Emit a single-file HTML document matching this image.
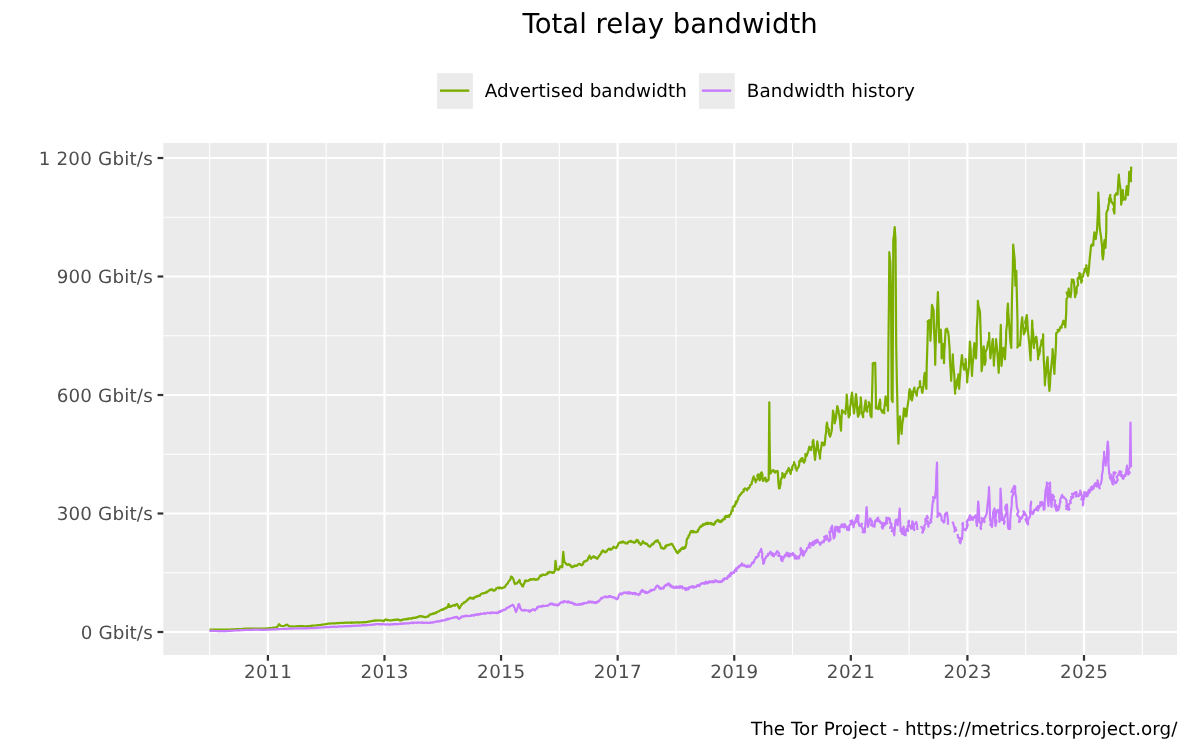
<!DOCTYPE html>
<html><head><meta charset="utf-8"><title>Total relay bandwidth</title>
<style>html,body{margin:0;padding:0;background:#fff;width:1200px;height:750px;overflow:hidden}
svg{display:block;font-family:'DejaVu Sans', 'Liberation Sans', sans-serif;text-rendering:geometricPrecision;will-change:transform}</style></head>
<body><svg width="1200" height="750" viewBox="0 0 1200 750">
<rect width="1200" height="750" fill="#fff"/>
<rect x="163.3" y="143.0" width="1013.70" height="512.00" fill="#EBEBEB"/>
<line x1="163.3" x2="1177.0" y1="572.75" y2="572.75" stroke="#fff" stroke-width="1.11"/>
<line x1="163.3" x2="1177.0" y1="454.25" y2="454.25" stroke="#fff" stroke-width="1.11"/>
<line x1="163.3" x2="1177.0" y1="335.75" y2="335.75" stroke="#fff" stroke-width="1.11"/>
<line x1="163.3" x2="1177.0" y1="217.25" y2="217.25" stroke="#fff" stroke-width="1.11"/>
<line x1="209.61" x2="209.61" y1="143.0" y2="655.0" stroke="#fff" stroke-width="1.11"/>
<line x1="326.19" x2="326.19" y1="143.0" y2="655.0" stroke="#fff" stroke-width="1.11"/>
<line x1="442.78" x2="442.78" y1="143.0" y2="655.0" stroke="#fff" stroke-width="1.11"/>
<line x1="559.36" x2="559.36" y1="143.0" y2="655.0" stroke="#fff" stroke-width="1.11"/>
<line x1="675.95" x2="675.95" y1="143.0" y2="655.0" stroke="#fff" stroke-width="1.11"/>
<line x1="792.54" x2="792.54" y1="143.0" y2="655.0" stroke="#fff" stroke-width="1.11"/>
<line x1="909.12" x2="909.12" y1="143.0" y2="655.0" stroke="#fff" stroke-width="1.11"/>
<line x1="1025.71" x2="1025.71" y1="143.0" y2="655.0" stroke="#fff" stroke-width="1.11"/>
<line x1="1142.29" x2="1142.29" y1="143.0" y2="655.0" stroke="#fff" stroke-width="1.11"/>
<line x1="163.3" x2="1177.0" y1="632.00" y2="632.00" stroke="#fff" stroke-width="2.22"/>
<line x1="163.3" x2="1177.0" y1="513.50" y2="513.50" stroke="#fff" stroke-width="2.22"/>
<line x1="163.3" x2="1177.0" y1="395.00" y2="395.00" stroke="#fff" stroke-width="2.22"/>
<line x1="163.3" x2="1177.0" y1="276.50" y2="276.50" stroke="#fff" stroke-width="2.22"/>
<line x1="163.3" x2="1177.0" y1="158.00" y2="158.00" stroke="#fff" stroke-width="2.22"/>
<line x1="267.90" x2="267.90" y1="143.0" y2="655.0" stroke="#fff" stroke-width="2.22"/>
<line x1="384.49" x2="384.49" y1="143.0" y2="655.0" stroke="#fff" stroke-width="2.22"/>
<line x1="501.07" x2="501.07" y1="143.0" y2="655.0" stroke="#fff" stroke-width="2.22"/>
<line x1="617.66" x2="617.66" y1="143.0" y2="655.0" stroke="#fff" stroke-width="2.22"/>
<line x1="734.24" x2="734.24" y1="143.0" y2="655.0" stroke="#fff" stroke-width="2.22"/>
<line x1="850.83" x2="850.83" y1="143.0" y2="655.0" stroke="#fff" stroke-width="2.22"/>
<line x1="967.41" x2="967.41" y1="143.0" y2="655.0" stroke="#fff" stroke-width="2.22"/>
<line x1="1084.00" x2="1084.00" y1="143.0" y2="655.0" stroke="#fff" stroke-width="2.22"/>
<polyline points="209.5,629.6 210.0,629.6 210.5,629.6 211.0,629.6 211.5,629.6 212.0,629.6 212.5,629.6 213.0,629.6 213.5,629.6 214.0,629.6 214.5,629.6 215.0,629.5 215.5,629.5 216.0,629.5 216.5,629.5 217.0,629.5 217.5,629.5 218.0,629.5 218.5,629.5 219.0,629.5 219.5,629.5 220.0,629.5 220.5,629.5 221.0,629.5 221.5,629.5 222.0,629.5 222.5,629.5 223.0,629.5 223.5,629.5 224.0,629.5 224.5,629.5 225.0,629.5 225.5,629.5 226.0,629.5 226.5,629.5 227.0,629.5 227.5,629.5 228.0,629.5 228.5,629.5 229.0,629.5 229.5,629.5 230.0,629.5 230.5,629.5 231.0,629.5 231.5,629.4 232.0,629.4 232.5,629.4 233.0,629.4 233.5,629.4 234.0,629.3 234.5,629.3 235.0,629.3 235.5,629.3 236.0,629.3 236.5,629.2 237.0,629.2 237.5,629.2 238.0,629.2 238.5,629.2 239.0,629.1 239.5,629.1 240.0,629.1 240.5,629.1 241.0,629.0 241.5,629.0 242.0,629.0 242.5,628.9 243.0,628.9 243.5,628.9 244.0,628.8 244.5,628.8 245.0,628.8 245.5,628.7 246.0,628.7 246.5,628.7 247.0,628.7 247.5,628.6 248.0,628.6 248.5,628.6 249.0,628.6 249.5,628.6 250.0,628.6 250.5,628.5 251.0,628.5 251.5,628.6 252.0,628.6 252.5,628.5 253.0,628.5 253.5,628.5 254.0,628.5 254.5,628.5 255.0,628.5 255.5,628.5 256.0,628.5 256.5,628.5 257.0,628.5 257.5,628.5 258.0,628.5 258.5,628.5 259.0,628.6 259.5,628.5 260.0,628.5 260.5,628.6 261.0,628.6 261.5,628.6 262.0,628.6 262.5,628.6 263.0,628.6 263.5,628.6 264.0,628.5 264.5,628.5 265.0,628.5 265.5,628.5 266.0,628.5 266.5,628.4 267.0,628.3 267.5,628.4 268.0,628.3 268.5,628.3 269.0,628.3 269.5,628.2 270.0,628.2 270.5,628.1 271.0,628.1 271.5,628.0 272.0,627.9 272.5,627.9 273.0,627.8 273.5,627.7 274.0,627.7 274.5,627.6 275.0,627.6 275.5,627.5 276.0,627.4 276.5,627.3 277.0,627.3 277.5,626.5 278.0,625.8 278.5,625.0 279.0,624.2 279.5,624.7 280.0,625.1 280.5,625.6 281.0,626.0 281.5,626.0 282.0,626.0 282.5,626.0 283.0,626.0 283.5,626.0 284.0,626.0 284.5,625.8 285.0,625.5 285.5,625.3 286.0,625.0 286.5,624.8 287.0,624.5 287.5,624.9 288.0,625.4 288.5,625.8 289.0,626.3 289.5,626.3 290.0,626.3 290.5,626.4 291.0,626.4 291.5,626.4 292.0,626.4 292.5,626.5 293.0,626.5 293.5,626.4 294.0,626.5 294.5,626.5 295.0,626.5 295.5,626.4 296.0,626.4 296.5,626.3 297.0,626.3 297.5,626.2 298.0,626.2 298.5,626.2 299.0,626.1 299.5,626.0 300.0,626.0 300.5,626.1 301.0,626.0 301.5,626.1 302.0,626.1 302.5,626.2 303.0,626.2 303.5,626.2 304.0,626.2 304.5,626.3 305.0,626.3 305.5,626.3 306.0,626.3 306.5,626.3 307.0,626.2 307.5,626.2 308.0,626.1 308.5,626.1 309.0,626.0 309.5,626.0 310.0,626.0 310.5,625.9 311.0,625.9 311.5,625.8 312.0,625.7 312.5,625.7 313.0,625.7 313.5,625.6 314.0,625.5 314.5,625.5 315.0,625.5 315.5,625.5 316.0,625.4 316.5,625.4 317.0,625.4 317.5,625.3 318.0,625.2 318.4,625.1 318.9,625.1 319.5,625.0 320.0,625.0 320.4,625.0 321.0,624.9 321.5,624.7 322.0,624.7 322.5,624.6 323.0,624.7 323.6,624.5 324.0,624.5 324.5,624.3 325.0,624.3 325.4,624.2 326.0,624.1 326.5,624.1 326.9,623.9 327.4,623.9 327.9,623.7 328.5,623.7 329.0,623.7 329.5,623.6 330.0,623.5 330.5,623.6 331.0,623.4 331.6,623.3 332.0,623.4 332.4,623.5 333.1,623.4 333.5,623.4 333.9,623.3 334.5,623.4 335.1,623.3 335.5,623.3 336.0,623.3 336.5,623.0 336.9,623.1 337.4,623.2 338.0,623.1 338.5,623.1 339.0,622.9 339.6,623.1 340.0,623.0 340.5,623.0 341.0,622.8 341.5,622.9 341.9,622.9 342.5,622.8 343.0,623.1 343.5,622.8 344.0,622.9 344.6,622.9 345.0,622.7 345.4,622.7 346.1,622.7 346.5,622.6 346.9,622.7 347.5,622.8 348.0,622.7 348.5,622.7 349.0,622.6 349.6,622.6 350.1,622.8 350.4,622.6 351.1,622.8 351.5,622.5 351.9,622.8 352.4,622.6 352.9,622.6 353.6,622.4 354.1,622.5 354.6,622.6 355.0,622.5 355.4,622.7 356.0,622.3 356.4,622.5 357.0,622.4 357.4,622.4 358.0,622.6 358.4,622.6 359.1,622.3 359.6,622.6 360.0,622.5 360.6,622.4 361.0,622.4 361.6,622.4 362.0,622.3 362.4,622.2 362.9,622.5 363.4,622.5 363.9,622.2 364.5,622.1 365.0,622.2 365.5,622.3 366.1,622.2 366.5,622.2 367.1,622.0 367.6,621.7 368.0,621.8 368.6,621.7 369.1,621.7 369.4,621.3 370.1,621.3 370.5,621.3 370.9,621.4 371.6,621.0 372.0,621.0 372.5,620.9 372.9,620.7 373.4,621.0 374.0,620.5 374.6,620.8 375.0,620.5 375.5,620.3 375.9,620.3 376.5,620.3 376.9,620.4 377.5,620.7 378.1,620.5 378.5,620.5 379.0,620.4 379.4,620.4 380.0,620.5 380.6,620.4 381.0,620.7 381.6,620.5 381.9,620.6 382.5,620.8 383.1,621.1 383.6,620.7 384.0,621.0 384.3,620.5 385.0,619.7 385.6,619.7 386.0,619.5 386.5,620.1 387.1,620.1 387.7,619.9 387.9,619.9 388.5,620.2 389.2,620.3 389.6,620.4 390.0,620.3 390.5,620.3 390.8,620.4 391.4,620.5 392.1,620.1 392.4,620.0 393.0,620.2 393.4,619.8 394.0,620.1 394.5,619.9 395.0,620.0 395.5,619.6 395.9,619.8 396.7,619.8 397.1,619.7 397.4,619.4 398.0,619.5 398.7,619.9 398.9,619.7 399.5,620.4 400.0,620.5 400.5,620.2 401.1,620.5 401.4,619.8 401.9,619.9 402.6,619.7 403.1,619.9 403.5,619.4 404.2,619.3 404.6,619.2 405.0,619.2 405.4,619.3 405.9,619.4 406.5,618.8 406.9,618.9 407.6,619.2 407.9,618.7 408.4,619.0 408.9,618.3 409.3,618.5 410.0,618.5 410.7,618.7 411.1,618.7 411.7,618.2 411.9,618.6 412.6,617.9 413.1,618.1 413.4,618.0 413.9,617.7 414.4,617.9 415.0,618.0 415.7,617.5 416.2,617.4 416.4,617.6 417.1,617.2 417.3,617.0 418.0,616.8 418.4,617.0 418.9,616.4 419.7,616.0 420.0,616.2 420.5,616.5 421.1,616.0 421.3,616.0 422.2,616.2 422.6,616.8 423.0,616.5 423.4,616.5 424.2,616.9 424.4,617.2 425.0,617.2 425.4,616.9 425.8,617.2 426.7,617.0 427.2,616.4 427.4,616.6 428.0,616.5 428.7,616.4 428.9,615.3 429.5,615.0 430.0,614.5 430.7,614.1 431.1,614.4 431.7,614.3 432.1,613.8 432.4,613.7 433.1,613.4 433.4,613.8 433.9,613.1 434.3,613.4 435.0,613.2 435.4,613.3 436.2,613.1 436.4,612.0 436.8,612.1 437.6,611.8 437.9,611.5 438.6,611.5 439.1,611.3 439.6,610.5 440.0,610.5 440.7,610.1 441.0,610.0 441.6,609.6 441.9,609.5 442.3,609.8 443.0,609.2 443.4,609.5 444.0,608.7 444.7,608.8 445.0,608.5 445.8,607.9 446.0,608.3 446.7,608.1 446.8,607.3 447.3,607.0 448.0,607.0 448.5,604.0 449.3,605.6 449.5,607.0 450.2,606.7 450.7,606.5 450.9,606.6 451.7,605.8 452.1,606.0 452.3,605.6 453.0,605.5 453.3,605.2 453.9,605.6 454.6,605.2 455.0,605.5 455.2,605.0 456.1,604.5 456.4,604.1 457.0,604.0 457.7,605.0 457.8,605.6 458.5,607.0 458.9,607.8 459.5,608.5 460.1,607.2 460.3,606.9 460.9,605.6 461.4,605.3 462.0,604.0 462.4,603.7 462.9,603.3 463.7,603.5 463.9,602.4 464.6,602.0 465.0,602.0 465.2,602.0 466.0,601.5 466.4,601.1 467.0,600.0 467.2,600.0 468.0,599.5 468.6,599.4 468.8,598.6 469.4,598.0 470.0,597.5 470.3,597.5 471.0,598.3 471.3,598.0 472.2,598.6 472.3,598.0 473.0,598.5 473.8,598.6 474.0,597.4 474.8,597.4 475.2,597.3 475.7,596.5 476.0,596.5 476.7,596.1 476.9,596.7 477.7,595.9 477.8,596.1 478.5,596.0 479.0,596.0 479.3,595.3 480.1,595.6 480.2,594.8 481.2,593.9 481.7,593.5 482.0,593.5 482.6,593.5 483.1,593.1 483.4,593.3 484.0,593.3 484.5,593.0 485.0,593.0 485.2,592.9 486.0,592.2 486.7,592.5 487.0,591.7 487.5,591.3 488.0,591.5 488.3,591.1 488.7,590.8 489.5,590.0 490.1,589.7 490.7,590.1 491.0,589.5 491.5,589.2 492.0,589.7 492.8,589.6 493.2,590.7 493.7,590.7 494.0,590.5 494.3,590.6 495.0,590.2 495.8,588.9 496.2,589.3 496.2,588.3 497.0,588.0 497.7,587.6 498.3,587.7 498.7,587.6 499.0,588.5 499.3,587.7 500.0,587.8 500.2,587.6 501.0,588.0 501.3,588.4 502.1,588.3 502.3,588.1 502.7,587.7 503.6,587.4 504.0,587.5 504.8,587.0 505.1,586.8 505.2,586.3 506.1,585.0 506.7,584.3 507.0,584.0 507.8,583.4 507.9,583.0 508.5,581.6 509.2,580.8 509.7,580.4 510.0,580.0 510.6,578.8 511.0,576.5 511.6,577.2 511.9,576.9 512.2,577.6 513.0,578.5 513.6,579.8 514.0,581.7 514.2,582.3 515.0,584.0 515.6,583.3 515.6,583.6 516.2,583.5 517.0,583.5 517.3,582.9 518.1,581.7 518.6,581.4 518.7,581.2 519.5,580.0 519.8,580.9 520.2,582.8 521.0,584.0 521.8,585.0 521.9,585.0 522.1,586.1 523.0,586.5 523.5,584.8 524.1,583.4 524.8,582.3 525.0,580.5 525.3,581.1 525.7,580.7 526.4,580.4 526.7,581.2 527.1,581.0 528.0,581.0 528.8,580.2 528.8,580.5 529.5,580.2 530.2,579.3 530.4,579.1 531.0,579.0 531.2,579.6 532.2,579.4 532.1,579.6 533.2,579.2 533.7,579.3 533.8,578.9 534.3,578.8 535.0,579.5 535.4,579.8 536.2,579.9 536.7,579.2 537.0,579.4 537.7,579.5 538.0,579.5 538.3,578.8 539.4,577.4 539.8,576.2 540.0,576.0 540.3,575.4 541.2,576.1 541.7,575.0 542.3,574.8 542.3,575.3 543.0,574.5 543.6,574.8 544.1,575.1 544.5,575.0 545.2,575.0 545.4,574.8 546.0,574.5 546.6,573.9 546.8,574.0 547.2,574.1 547.7,572.5 548.2,573.4 549.0,572.5 549.4,571.9 549.6,571.7 550.7,572.4 551.2,572.5 551.1,572.2 552.0,572.0 552.5,572.8 553.2,572.7 554.0,572.7 553.9,572.1 554.8,571.1 555.5,560.9 556.1,565.4 556.4,569.5 556.6,569.1 557.1,568.9 558.3,569.9 558.5,569.5 559.2,569.2 559.7,567.6 559.8,566.5 560.7,566.3 561.5,566.2 561.6,566.9 562.3,567.3 562.7,559.5 563.3,551.9 563.8,557.0 564.4,562.0 564.8,562.4 565.9,563.4 566.0,564.1 566.8,564.4 566.7,564.2 567.5,564.8 568.0,564.8 568.7,564.2 569.2,564.7 570.0,564.6 570.5,565.3 570.3,565.8 571.3,566.8 572.0,567.4 571.8,566.5 572.7,566.9 572.9,566.3 573.6,566.7 574.0,566.7 574.5,565.5 575.3,565.8 575.6,565.7 575.7,565.7 576.2,565.8 577.2,565.6 577.6,564.8 577.9,564.7 578.8,564.0 579.3,563.8 579.2,563.9 579.9,564.1 580.8,564.4 580.8,565.2 581.2,564.9 582.0,565.2 582.6,564.7 583.3,563.6 583.4,562.2 584.1,561.5 584.3,561.8 585.3,561.5 585.4,560.9 586.5,560.9 586.4,560.5 587.3,560.4 588.2,558.8 588.1,557.7 589.1,557.3 589.5,555.6 589.7,556.2 590.3,557.5 591.0,558.8 591.6,557.7 591.9,557.3 593.1,557.5 592.8,557.3 593.7,556.1 593.8,556.3 595.1,557.3 595.3,557.2 595.3,557.9 595.7,557.6 596.4,557.7 597.0,558.8 597.4,558.5 598.2,557.4 598.7,556.6 598.7,556.1 599.5,555.6 600.1,554.5 601.0,553.6 601.2,553.2 601.6,551.6 602.5,551.7 602.8,550.3 603.6,551.0 604.2,551.4 604.6,551.5 604.8,552.2 605.5,552.4 605.7,551.7 606.8,551.5 607.2,550.2 607.6,549.9 608.3,549.2 608.7,548.7 609.4,549.5 609.5,549.1 610.6,548.8 610.8,549.8 610.9,549.2 611.9,549.2 612.1,548.7 613.4,547.4 613.5,546.5 613.6,546.9 614.6,547.5 615.1,547.7 615.9,547.8 616.1,548.1 616.5,547.9 616.9,546.6 617.6,545.9 617.9,545.3 618.6,543.0 619.3,542.8 619.6,542.5 619.8,542.4 620.7,542.8 621.1,541.9 621.4,542.6 622.6,542.1 622.4,542.4 623.0,541.4 623.6,541.7 623.8,542.4 625.0,542.5 625.2,542.6 625.5,543.5 626.1,543.3 626.8,543.3 627.6,543.5 627.8,542.3 628.4,541.6 629.3,541.7 629.8,541.2 630.0,541.2 630.4,540.9 630.9,540.9 630.9,541.9 631.7,541.3 632.2,541.8 632.8,542.2 633.5,541.8 634.2,542.8 634.3,542.3 634.4,542.5 635.8,542.0 635.5,541.7 636.6,540.0 636.5,541.2 637.5,540.1 638.2,540.5 638.2,541.1 638.8,543.0 639.5,542.7 640.6,544.6 640.7,544.9 640.9,544.6 641.9,543.5 642.4,542.8 642.8,541.2 643.6,542.2 643.6,542.4 644.4,543.0 644.9,543.6 645.5,543.1 646.0,543.9 646.2,543.6 646.9,543.7 647.4,544.2 647.9,545.1 648.4,546.0 648.4,546.2 649.3,546.0 650.0,546.8 650.3,546.5 650.7,545.7 651.8,544.5 652.0,544.9 652.0,544.2 653.2,544.2 653.5,542.8 653.9,543.3 654.6,542.1 655.5,541.0 655.8,541.7 656.0,541.7 656.5,540.7 657.2,540.9 657.7,540.1 657.9,541.2 658.7,542.5 659.6,543.2 660.2,544.6 660.4,545.5 660.9,547.1 661.4,548.2 662.1,548.1 662.3,547.6 662.8,548.3 663.7,548.9 664.1,548.7 664.2,548.4 665.6,547.5 665.2,546.5 665.7,545.6 667.2,545.7 667.3,544.9 668.0,545.3 668.8,544.9 669.0,544.8 669.7,544.7 670.0,544.4 670.7,543.9 671.2,544.4 671.8,543.8 671.7,543.8 672.5,544.6 673.3,546.4 673.7,546.5 674.4,548.3 674.6,548.9 675.2,549.2 675.5,550.2 676.0,550.9 676.9,552.5 676.8,552.6 677.8,553.2 677.9,551.8 679.2,551.9 679.8,551.0 679.4,550.1 680.6,550.4 681.0,548.9 682.0,548.7 681.9,548.0 682.6,548.0 682.5,547.6 682.9,548.6 683.5,549.0 683.9,548.7 684.4,547.1 685.3,547.8 686.1,544.9 686.6,542.5 686.4,541.1 687.4,538.2 688.2,537.8 688.7,535.3 689.1,535.4 689.5,534.7 689.8,533.7 690.6,531.8 691.3,530.9 691.1,532.1 692.4,531.1 692.4,532.2 692.7,532.4 693.5,531.0 693.9,531.9 694.5,532.1 694.7,532.3 695.4,532.1 696.2,531.7 696.4,532.3 697.0,531.8 698.0,531.4 698.1,529.7 698.1,530.0 699.3,528.8 699.5,527.6 700.2,526.5 701.2,526.8 701.3,525.6 701.6,526.3 702.0,525.7 702.8,525.7 703.5,524.4 703.1,524.0 704.0,524.3 705.0,524.6 704.6,524.2 705.6,523.3 706.5,524.0 706.7,522.9 707.6,523.8 707.9,524.0 708.1,522.6 708.8,523.8 709.0,523.7 709.8,523.3 710.7,522.9 710.9,523.8 711.2,523.1 711.4,524.2 712.5,523.8 712.2,524.5 713.4,523.6 713.7,524.9 714.1,524.3 715.0,523.6 715.1,523.1 715.4,521.6 715.9,521.9 716.6,520.9 717.3,520.1 717.7,520.5 718.0,520.0 719.4,520.9 719.0,521.7 720.3,521.2 720.5,522.2 721.1,521.4 721.5,520.3 721.5,521.6 722.9,520.2 723.0,519.3 723.8,519.1 724.4,519.2 724.8,519.1 724.7,516.9 725.1,516.7 725.5,516.0 726.5,517.0 726.9,515.8 727.4,516.9 728.5,515.5 728.7,516.4 729.1,516.9 729.2,516.5 729.9,514.6 730.8,514.1 731.4,511.9 731.7,510.3 732.8,510.6 732.5,507.6 733.3,507.3 733.5,506.2 734.7,506.4 735.1,504.0 735.5,504.4 735.9,504.0 735.7,501.6 736.9,502.3 737.3,500.3 737.6,499.8 738.2,499.4 738.2,497.7 738.9,496.4 739.7,495.6 740.0,494.7 740.8,494.5 741.5,492.8 742.1,492.4 741.8,493.0 742.6,492.2 743.8,491.4 743.5,489.7 744.0,489.9 745.0,488.3 745.9,489.0 745.9,489.0 746.9,489.8 747.0,490.3 747.7,488.9 747.8,488.1 748.9,488.4 748.7,488.4 749.7,487.0 749.9,486.0 750.3,484.9 751.6,484.2 751.7,483.7 751.8,481.8 752.5,480.8 752.7,479.1 753.7,476.3 753.7,478.6 754.9,478.7 755.2,480.4 755.7,482.3 755.9,480.1 756.6,480.1 757.9,478.3 757.3,475.5 758.3,474.3 759.2,475.4 759.5,477.9 759.7,480.3 760.8,477.3 761.1,476.0 760.8,473.3 761.7,472.3 762.5,475.3 762.2,478.0 763.0,481.0 764.0,479.6 764.1,478.6 764.1,479.1 765.0,477.7 765.7,478.4 765.4,479.5 766.3,481.7 766.9,481.2 767.0,480.0 767.9,480.5 768.6,479.7 768.7,479.0 769.3,402.3 769.6,437.7 770.1,473.7 770.9,472.7 771.5,471.1 772.1,470.8 772.3,470.3 773.3,471.5 773.4,470.1 774.4,471.5 774.9,471.4 775.0,472.3 775.1,472.7 775.9,471.1 776.5,471.7 776.5,471.3 777.7,471.0 778.1,476.8 778.4,482.7 779.0,488.3 779.8,488.2 779.6,487.0 780.3,485.7 780.7,483.1 780.7,480.1 782.4,476.2 782.3,473.0 782.8,474.2 783.3,474.3 784.4,475.9 784.3,477.7 784.4,475.9 785.0,476.4 785.2,473.8 786.3,473.7 787.0,471.9 786.6,471.6 787.8,470.3 788.5,468.3 788.7,468.0 789.7,470.0 789.1,470.2 790.2,472.5 790.7,474.0 790.9,471.5 791.5,469.8 792.2,469.6 792.1,467.3 793.4,464.7 794.0,464.7 794.0,462.0 794.4,463.6 795.5,465.5 795.5,468.2 796.5,468.6 796.7,470.7 796.9,468.6 797.7,468.3 798.7,466.4 799.2,464.5 799.3,462.0 799.3,461.2 801.0,461.4 800.6,459.4 801.6,458.5 802.0,458.0 802.5,458.2 802.9,460.4 802.9,460.7 804.0,462.7 805.1,460.4 805.5,457.2 805.3,454.0 806.2,455.5 806.8,454.3 806.7,456.0 807.4,453.6 808.0,451.8 808.3,451.4 808.9,448.0 809.3,446.7 809.8,447.4 810.9,447.9 810.5,449.5 811.3,450.0 811.3,447.7 812.9,445.0 812.5,442.4 813.3,440.0 813.9,446.4 814.3,453.1 815.0,460.0 815.4,456.2 815.8,452.3 816.2,448.8 817.0,445.1 817.3,441.3 817.9,445.1 818.0,448.8 818.9,451.9 819.6,455.1 820.0,458.7 820.2,454.1 820.6,450.7 821.3,446.9 822.0,442.7 821.8,442.7 823.6,442.9 823.7,443.9 823.8,445.5 824.7,444.7 825.1,440.5 825.5,435.6 826.2,431.5 826.3,427.0 827.0,422.7 827.4,425.6 827.4,426.7 829.2,430.3 828.5,431.6 829.3,434.8 830.0,436.7 830.7,434.9 831.5,431.4 831.9,429.3 832.0,426.0 832.6,418.3 833.0,410.7 834.0,415.4 834.8,418.2 834.7,423.3 835.8,418.6 836.1,416.6 836.3,414.1 836.9,409.2 837.3,406.0 838.2,409.3 838.5,410.3 838.7,412.9 839.3,415.3 840.0,420.3 840.4,425.6 841.0,430.7 841.4,420.2 842.0,410.0 842.9,411.5 842.9,411.0 842.9,411.2 843.3,412.5 844.5,411.8 845.5,413.0 845.3,414.0 845.9,407.8 846.5,400.9 846.7,394.7 847.2,400.7 847.5,405.6 848.2,411.6 848.7,417.3 849.9,414.5 849.7,411.6 850.1,406.8 850.9,402.9 850.8,400.0 851.3,397.4 852.0,392.7 852.6,397.9 852.8,402.9 853.5,408.2 854.0,413.3 854.5,408.8 855.2,403.6 855.5,398.9 856.0,394.0 856.7,399.5 857.0,405.6 857.3,410.9 858.0,416.7 859.3,413.7 859.1,407.9 860.3,405.6 860.7,402.6 860.7,397.3 861.3,404.4 861.6,411.6 861.6,412.9 862.7,415.3 863.2,417.2 863.1,412.9 864.4,410.8 864.4,408.5 865.4,402.5 865.6,400.4 866.0,405.0 866.3,408.4 867.2,411.6 866.9,407.8 868.9,405.4 868.8,402.0 869.6,404.9 869.9,409.6 870.4,413.2 870.5,415.6 871.5,417.2 871.9,400.3 872.4,382.5 872.8,365.2 872.6,363.7 874.2,363.1 873.5,362.8 874.8,364.2 875.2,362.8 875.7,385.9 876.0,408.4 875.7,407.1 877.4,408.2 877.8,408.4 877.3,408.3 878.4,409.2 878.2,407.2 879.6,402.3 880.0,399.6 880.4,403.0 880.3,408.2 881.6,410.8 882.2,412.5 882.5,411.8 882.6,410.4 884.3,413.2 884.0,412.4 884.4,407.4 885.2,401.6 885.6,396.4 886.3,400.7 886.6,403.5 886.6,404.7 887.9,407.1 888.0,410.8 888.3,358.2 888.9,305.2 889.3,252.0 889.7,256.7 890.3,262.0 891.0,290.0 891.7,400.0 891.9,400.0 892.6,402.0 893.3,240.0 894.0,235.5 894.3,231.0 894.7,227.0 895.1,233.4 895.5,240.0 896.2,345.0 896.8,378.0 897.3,399.5 897.7,422.0 898.4,443.6 898.8,434.3 899.3,425.3 900.0,416.4 900.4,421.8 901.2,428.0 901.6,434.0 901.9,429.1 902.3,423.5 903.2,418.3 903.5,413.8 904.0,408.4 905.1,408.9 904.7,412.3 905.2,414.7 905.4,416.2 906.4,416.4 906.9,411.6 907.4,407.0 908.1,402.6 908.8,398.4 909.0,393.5 909.6,389.2 910.3,390.5 911.3,392.5 911.1,396.1 911.1,399.0 912.0,400.4 912.3,398.3 913.1,394.7 913.2,391.4 913.3,391.3 914.4,387.6 914.5,389.7 914.6,391.0 915.6,392.4 915.9,392.6 916.8,395.6 917.0,392.3 917.1,391.5 918.0,388.1 919.7,386.9 920.2,384.8 920.0,381.2 919.8,382.8 920.0,386.4 921.8,387.7 921.8,391.0 922.4,392.8 923.0,388.6 923.6,384.7 923.9,380.5 924.1,377.2 924.8,372.8 925.5,378.3 925.6,383.0 926.4,388.8 926.7,366.6 927.4,345.0 928.0,323.2 927.6,321.5 929.3,320.0 929.6,320.0 930.2,330.5 930.4,340.8 931.1,328.6 931.4,317.0 932.0,304.8 932.2,305.6 933.7,310.5 933.6,312.0 934.0,329.2 934.9,347.3 935.2,364.8 935.5,350.2 936.0,336.3 936.8,321.6 937.2,307.2 937.9,292.0 938.5,308.4 938.9,325.5 939.2,342.4 939.9,338.5 940.1,333.5 940.8,329.6 941.5,343.9 941.6,358.4 942.4,353.8 942.8,349.1 943.2,344.0 943.7,353.6 944.0,363.2 944.3,352.2 945.0,340.8 945.6,329.6 946.9,328.7 947.1,328.7 947.4,331.6 947.1,331.0 948.0,331.2 948.8,337.2 949.1,342.7 949.6,348.8 949.9,359.3 950.6,369.8 951.2,380.8 951.6,371.6 952.4,363.4 952.8,354.4 953.1,362.0 953.8,370.0 954.5,377.8 954.6,386.1 955.2,393.6 955.0,390.6 955.9,388.2 956.9,384.9 956.7,381.3 958.1,377.5 958.4,374.4 959.0,381.9 959.2,388.8 959.5,381.9 960.2,375.1 960.6,368.4 961.2,362.1 961.9,355.2 962.3,357.5 962.6,362.3 963.2,364.9 964.0,369.6 963.7,364.5 966.0,363.5 965.6,359.2 965.9,367.1 967.0,374.7 967.2,382.4 967.5,377.3 968.2,372.0 968.8,367.2 969.4,353.9 969.9,341.6 970.7,350.3 971.0,359.2 971.6,367.2 972.0,376.0 972.3,369.1 972.7,363.2 973.6,356.1 973.7,349.9 974.4,343.2 975.1,348.7 975.3,353.6 976.0,358.4 976.7,344.2 976.8,329.3 977.6,315.0 977.9,300.8 978.2,303.8 978.7,307.5 979.0,307.7 980.0,312.0 980.6,331.9 981.3,351.7 981.6,371.2 982.4,365.4 982.6,358.8 983.0,352.4 983.7,346.4 984.3,355.2 984.8,364.8 985.7,360.2 985.6,359.3 985.4,352.7 986.6,349.7 987.2,347.2 988.1,341.9 988.8,341.2 989.2,336.2 989.1,332.8 989.4,341.5 990.0,349.8 990.4,358.4 990.8,354.5 991.5,351.0 992.1,346.5 992.2,343.0 992.8,339.2 993.4,352.2 993.9,365.6 994.2,358.6 994.8,352.4 995.8,346.2 996.0,339.2 996.8,346.4 997.4,352.8 997.8,358.9 998.3,366.2 998.7,372.8 999.1,360.9 1000.0,348.8 1000.4,336.6 1000.8,324.8 1001.5,366.0 1001.9,361.9 1002.2,356.6 1003.0,352.4 1003.4,347.9 1003.1,352.2 1004.2,355.8 1005.0,359.3 1005.4,350.1 1006.0,340.7 1006.2,331.2 1007.2,322.3 1007.2,313.3 1007.9,303.7 1008.3,312.9 1009.1,323.0 1009.7,331.2 1010.2,340.0 1010.7,344.1 1011.3,347.9 1011.6,322.2 1012.0,296.3 1012.8,270.1 1013.2,244.7 1013.6,249.2 1014.2,254.9 1014.7,259.5 1015.4,285.6 1015.9,278.4 1016.3,270.8 1016.9,295.7 1017.5,321.7 1017.7,346.8 1017.3,347.5 1018.4,344.8 1020.0,345.6 1020.1,343.7 1020.0,344.5 1020.7,337.2 1020.9,330.8 1021.4,324.2 1022.2,317.3 1022.6,322.8 1023.4,328.6 1023.8,334.3 1025.1,331.5 1025.6,328.1 1026.2,325.9 1025.1,322.3 1026.0,319.1 1026.8,315.0 1027.4,321.8 1027.6,327.7 1028.3,334.3 1028.9,340.0 1029.4,344.3 1029.7,349.5 1030.2,355.5 1030.6,360.4 1030.9,347.6 1031.8,333.7 1032.2,320.7 1032.5,327.4 1033.3,334.4 1033.3,340.6 1034.0,347.9 1033.7,346.7 1034.3,343.6 1034.9,341.8 1035.6,337.6 1036.3,336.6 1037.0,342.3 1037.3,348.3 1037.9,353.1 1038.1,359.3 1038.2,355.6 1039.0,355.6 1040.1,350.2 1039.3,350.4 1040.4,346.8 1041.3,343.9 1041.4,340.6 1042.7,338.9 1043.3,337.2 1043.1,334.3 1043.3,346.9 1043.8,360.2 1044.5,372.1 1044.9,385.3 1045.2,379.5 1046.0,374.1 1046.5,368.2 1046.8,362.7 1047.6,357.0 1047.9,365.0 1048.5,374.5 1048.7,382.1 1049.4,391.0 1050.0,383.8 1050.3,377.0 1050.9,370.1 1051.6,363.5 1052.4,355.5 1052.6,349.0 1053.1,355.5 1053.7,361.8 1054.0,367.9 1054.4,374.0 1054.8,363.6 1055.5,354.0 1056.0,343.6 1056.2,333.2 1056.3,333.5 1057.6,332.1 1057.9,331.0 1058.2,330.6 1057.6,329.8 1059.0,329.8 1059.2,331.0 1060.0,328.4 1060.1,327.5 1060.8,326.7 1061.7,327.5 1061.1,327.1 1062.5,323.9 1063.2,321.7 1063.5,320.7 1063.3,320.9 1064.0,323.4 1065.3,326.0 1065.3,327.5 1066.2,313.1 1066.5,299.0 1067.9,296.7 1066.7,292.6 1068.3,292.8 1068.7,288.5 1068.9,291.6 1069.5,294.1 1069.2,295.0 1070.6,297.2 1071.3,291.2 1071.4,285.1 1072.0,279.8 1071.8,279.5 1073.4,279.8 1073.2,280.2 1073.9,281.7 1074.6,289.8 1075.1,297.2 1075.9,293.5 1076.5,293.5 1076.7,287.7 1077.0,286.5 1078.1,285.1 1077.6,279.8 1077.7,278.5 1079.6,276.2 1079.3,273.0 1080.7,274.4 1079.9,278.7 1081.1,279.9 1081.3,282.7 1082.2,280.4 1081.3,279.0 1081.8,278.0 1083.2,275.9 1083.3,274.1 1084.4,271.5 1084.6,268.9 1086.0,269.1 1086.6,265.5 1086.1,265.3 1086.8,268.7 1086.7,269.2 1086.8,272.0 1088.0,275.9 1088.7,270.5 1089.2,265.8 1089.5,261.0 1090.0,256.1 1090.6,250.7 1091.0,245.9 1092.0,244.5 1092.4,245.7 1093.0,243.5 1093.4,245.3 1093.3,243.0 1093.8,237.5 1094.4,232.4 1094.9,236.2 1094.6,235.1 1095.8,239.1 1096.2,235.7 1096.8,231.9 1097.1,228.5 1098.0,210.3 1098.3,192.7 1099.0,206.8 1099.3,221.7 1099.6,226.1 1100.2,231.4 1101.0,236.2 1101.5,241.7 1102.2,247.7 1102.2,253.3 1102.9,259.4 1103.6,253.4 1103.8,246.0 1104.5,240.1 1105.6,243.0 1105.5,247.8 1106.3,230.4 1106.4,213.0 1107.2,210.7 1108.1,209.4 1108.0,207.8 1108.2,206.4 1109.2,202.2 1109.0,199.4 1110.4,195.0 1110.0,197.1 1111.2,199.5 1110.9,200.0 1112.1,202.9 1112.8,203.0 1114.3,206.9 1113.3,209.1 1114.4,213.4 1114.8,195.4 1114.9,195.0 1116.0,195.0 1116.0,193.4 1117.6,194.4 1117.6,193.4 1118.1,184.5 1118.8,174.6 1119.2,179.1 1119.6,183.8 1120.4,187.8 1121.0,196.0 1121.2,204.6 1121.9,200.1 1122.1,194.8 1122.8,190.2 1123.2,198.2 1123.6,199.6 1123.4,198.9 1124.8,198.0 1125.3,199.6 1125.6,198.2 1126.0,192.6 1126.8,186.2 1127.1,191.6 1128.0,195.0 1128.8,183.1 1129.2,171.8 1129.6,180.6 1131.0,181.2 1130.8,178.2 1131.2,166.6" fill="none" stroke="#7CAE00" stroke-width="2.2" stroke-linejoin="round" stroke-linecap="butt"/>
<polyline points="209.5,630.8 210.0,630.8 210.5,630.8 211.0,630.9 211.5,630.9 212.0,630.9 212.5,630.9 213.0,630.9 213.5,630.9 214.0,631.0 214.5,631.0 215.0,631.0 215.5,631.0 216.0,631.0 216.5,631.0 217.0,631.0 217.5,631.1 218.0,631.1 218.5,631.1 219.0,631.1 219.5,631.1 220.0,631.1 220.5,631.1 221.0,631.1 221.5,631.1 222.0,631.1 222.5,631.1 223.0,631.2 223.5,631.2 224.0,631.2 224.5,631.2 225.0,631.2 225.5,631.2 226.0,631.1 226.5,631.1 227.0,631.1 227.5,631.0 228.0,631.0 228.5,631.0 229.0,630.9 229.5,630.9 230.0,630.9 230.5,630.8 231.0,630.8 231.5,630.7 232.0,630.7 232.5,630.7 233.0,630.6 233.5,630.6 234.0,630.6 234.5,630.5 235.0,630.5 235.5,630.5 236.0,630.5 236.5,630.4 237.0,630.4 237.5,630.4 238.0,630.4 238.5,630.3 239.0,630.3 239.5,630.3 240.0,630.3 240.5,630.2 241.0,630.2 241.5,630.2 242.0,630.2 242.5,630.1 243.0,630.1 243.5,630.1 244.0,630.1 244.5,630.0 245.0,630.0 245.5,630.0 246.0,630.0 246.5,629.9 247.0,629.9 247.5,629.9 248.0,629.9 248.5,629.9 249.0,629.9 249.5,629.9 250.0,629.9 250.5,629.8 251.0,629.8 251.5,629.8 252.0,629.8 252.5,629.8 253.0,629.8 253.5,629.7 254.0,629.7 254.5,629.7 255.0,629.7 255.5,629.7 256.0,629.7 256.5,629.7 257.0,629.7 257.5,629.7 258.0,629.7 258.5,629.7 259.0,629.7 259.5,629.7 260.0,629.8 260.5,629.7 261.0,629.8 261.5,629.8 262.0,629.7 262.5,629.8 263.0,629.8 263.5,629.8 264.0,629.8 264.5,629.8 265.0,629.8 265.5,629.8 266.0,629.8 266.5,629.7 267.0,629.7 267.5,629.7 268.0,629.6 268.5,629.6 269.0,629.6 269.5,629.6 270.0,629.6 270.5,629.5 271.0,629.5 271.5,629.5 272.0,629.4 272.5,629.4 273.0,629.4 273.5,629.4 274.0,629.3 274.5,629.3 275.0,629.3 275.5,629.3 276.0,629.2 276.5,629.2 277.0,629.2 277.5,629.2 278.0,629.1 278.5,629.1 279.0,629.1 279.5,629.0 280.0,629.0 280.5,629.0 281.0,629.0 281.5,629.0 282.0,629.0 282.5,628.9 283.0,628.9 283.5,628.9 284.0,628.9 284.5,628.8 285.0,628.8 285.5,628.8 286.0,628.8 286.5,628.8 287.0,628.7 287.5,628.7 288.0,628.7 288.5,628.7 289.0,628.7 289.5,628.7 290.0,628.7 290.5,628.6 291.0,628.6 291.5,628.6 292.0,628.6 292.5,628.6 293.0,628.6 293.5,628.6 294.0,628.5 294.5,628.5 295.0,628.5 295.5,628.5 296.0,628.5 296.5,628.5 297.0,628.4 297.5,628.4 298.0,628.4 298.5,628.5 299.0,628.4 299.5,628.4 300.0,628.4 300.5,628.4 301.0,628.4 301.5,628.3 302.0,628.3 302.5,628.4 303.0,628.3 303.5,628.3 304.0,628.3 304.5,628.3 305.0,628.3 305.5,628.3 306.0,628.3 306.5,628.2 307.0,628.3 307.5,628.2 308.0,628.1 308.5,628.3 309.0,628.2 309.5,628.1 310.0,628.1 310.5,628.2 311.0,628.2 311.5,628.0 312.0,628.0 312.5,628.1 313.0,628.1 313.5,628.0 314.0,628.1 314.5,628.0 315.0,628.0 315.5,627.9 316.0,627.9 316.5,628.0 317.0,627.9 317.5,627.8 318.0,627.7 318.5,627.6 319.0,627.7 319.5,627.6 320.0,627.6 320.5,627.6 321.0,627.5 321.5,627.5 322.0,627.4 322.5,627.5 323.0,627.5 323.4,627.5 324.0,627.4 324.5,627.4 325.0,627.4 325.5,627.2 325.9,627.2 326.5,627.2 327.1,627.1 327.5,627.1 328.0,627.2 328.5,627.0 329.0,627.1 329.6,626.9 330.0,627.0 330.5,627.0 331.0,626.9 331.5,626.9 332.1,626.8 332.6,626.9 333.0,626.7 333.5,626.9 334.0,626.7 334.5,626.7 335.0,626.7 335.5,626.9 336.1,626.8 336.5,626.7 337.0,626.8 337.5,626.7 337.9,626.6 338.6,626.7 338.9,626.6 339.5,626.4 340.0,626.5 340.6,626.5 341.0,626.3 341.6,626.6 342.1,626.5 342.6,626.5 343.0,626.3 343.6,626.4 344.1,626.3 344.6,626.3 345.1,626.1 345.6,626.3 346.0,626.3 346.4,626.1 347.0,626.1 347.5,626.3 348.0,626.2 348.5,626.2 349.1,626.1 349.6,626.2 350.0,625.9 350.5,626.1 351.0,626.0 351.6,626.1 351.9,625.9 352.4,625.8 353.1,625.9 353.5,625.9 354.0,625.7 354.5,625.9 355.0,625.8 355.5,625.7 355.9,625.7 356.5,625.7 357.0,625.8 357.4,625.7 357.9,625.7 358.4,625.5 359.1,625.5 359.4,625.7 360.0,625.5 360.5,625.6 361.0,625.4 361.6,625.4 362.1,625.3 362.6,625.2 363.0,625.1 363.4,625.5 364.0,625.4 364.4,625.2 364.9,625.2 365.6,625.2 366.0,625.3 366.6,625.2 366.9,625.1 367.5,625.2 368.0,625.0 368.5,625.0 369.0,624.9 369.5,625.0 370.1,624.9 370.5,625.0 370.9,624.9 371.5,624.8 372.0,624.8 372.6,624.8 373.1,624.4 373.5,624.4 374.1,624.7 374.4,624.6 375.0,624.5 375.5,624.2 376.0,624.4 376.5,624.1 377.1,624.1 377.5,624.0 378.0,624.0 378.6,624.1 379.1,624.2 379.5,624.4 380.0,624.2 380.6,624.3 380.9,624.1 381.5,624.4 382.1,624.2 382.4,624.4 383.1,624.2 383.6,624.2 383.9,624.2 384.4,624.4 385.0,624.5 385.6,624.7 385.9,624.4 386.6,624.3 386.9,624.5 387.4,624.4 388.0,624.4 388.6,624.4 388.9,624.7 389.5,624.7 390.0,624.5 390.5,624.6 390.9,624.2 391.6,624.4 392.0,624.5 392.6,624.2 393.0,624.5 393.5,624.1 394.0,624.1 394.6,623.9 395.1,624.2 395.5,624.4 395.9,623.9 396.4,624.1 397.1,624.1 397.5,624.1 397.9,623.8 398.5,624.2 399.0,624.0 399.6,623.8 400.0,623.8 400.7,623.9 400.9,623.7 401.6,623.6 401.9,623.9 402.5,623.6 403.1,623.8 403.4,623.4 403.8,623.4 404.5,623.6 405.1,623.4 405.5,623.4 405.9,623.5 406.6,623.5 406.9,623.3 407.6,623.2 408.1,623.4 408.6,623.3 409.1,623.3 409.4,623.2 410.0,623.0 410.6,623.0 410.9,622.7 411.5,623.1 411.9,622.7 412.4,622.6 413.1,623.1 413.6,622.7 414.1,622.5 414.6,622.7 414.8,622.8 415.4,622.6 415.8,622.7 416.5,622.9 416.8,622.9 417.3,622.4 418.1,622.5 418.4,622.6 418.9,622.7 419.4,622.7 420.0,622.5 420.6,622.5 420.8,622.7 421.3,622.6 422.0,622.3 422.6,622.8 423.0,622.6 423.5,622.7 423.9,622.9 424.7,622.9 425.2,622.6 425.7,622.5 426.0,622.5 426.5,623.0 427.1,622.8 427.4,622.7 428.0,622.9 428.5,622.7 428.9,623.0 429.5,622.7 430.0,622.7 430.4,622.8 430.9,622.4 431.5,622.6 432.2,622.6 432.7,622.6 433.1,622.4 433.3,621.9 433.8,622.3 434.6,622.1 435.0,621.9 435.4,621.7 435.9,621.8 436.7,621.5 436.8,621.3 437.4,621.7 438.1,621.3 438.3,621.0 438.8,621.4 439.5,621.5 440.0,621.0 440.7,621.1 441.0,621.0 441.3,620.4 442.0,620.6 442.4,620.3 442.8,620.7 443.6,620.6 444.2,620.2 444.6,620.0 445.0,620.0 445.6,620.1 445.8,619.3 446.4,619.6 446.9,619.0 447.7,619.5 448.0,618.7 448.7,619.0 448.8,618.7 449.6,619.0 450.0,618.5 450.5,618.5 450.9,618.1 451.7,618.1 451.8,618.2 452.3,617.8 453.0,618.0 453.6,618.0 454.0,617.3 454.6,617.2 455.0,617.5 455.5,617.2 456.1,617.3 456.4,617.1 457.0,616.8 457.6,617.3 457.8,618.2 458.6,618.1 459.0,619.0 459.4,619.0 459.9,618.1 460.6,618.0 461.1,617.5 461.3,616.6 462.0,616.5 462.7,616.7 462.8,616.0 463.4,616.7 463.9,616.4 464.7,616.3 465.2,615.9 465.3,615.6 466.1,615.6 466.8,616.1 467.0,615.8 467.3,616.0 467.8,615.8 468.3,616.0 469.2,616.1 469.2,616.0 470.0,615.9 470.5,615.7 471.1,615.9 471.3,615.2 472.0,615.4 472.4,615.1 473.0,615.5 473.6,615.0 474.2,615.6 474.5,614.8 475.1,614.8 475.5,614.6 476.3,614.9 476.4,614.4 477.1,615.0 477.7,614.2 478.0,614.5 478.4,614.2 479.2,614.0 479.6,614.7 480.2,613.6 480.3,613.6 481.1,614.0 481.5,613.8 481.9,613.8 482.6,614.0 483.0,613.5 483.6,613.7 484.2,613.7 484.6,612.9 485.1,613.6 485.5,613.6 485.8,613.6 486.5,613.4 486.9,612.9 487.4,612.9 488.0,613.0 488.3,612.9 489.3,613.1 489.8,613.1 490.2,613.3 490.7,612.5 490.8,612.6 491.2,612.4 492.2,613.0 492.4,612.8 493.0,612.5 493.7,613.0 494.2,612.7 494.3,613.0 494.9,612.9 495.4,612.9 496.3,612.5 496.5,613.1 497.0,613.0 497.5,613.2 497.9,612.9 498.6,612.7 498.7,611.7 499.4,612.2 499.7,611.2 500.6,611.8 501.0,611.0 501.3,610.7 502.1,610.8 502.7,610.7 502.8,610.0 503.2,610.3 503.8,609.6 504.8,609.8 505.0,609.5 505.6,609.4 506.1,609.1 506.4,608.1 506.7,607.7 507.4,607.5 507.7,607.6 508.8,607.5 509.0,607.0 509.3,607.1 509.8,606.0 510.4,606.1 511.1,605.9 511.7,605.3 512.3,605.3 512.7,604.7 513.0,605.0 513.7,605.7 514.2,607.3 514.6,607.7 515.0,609.0 515.2,610.1 516.0,612.0 516.8,610.3 517.1,609.4 517.5,608.0 518.1,606.3 518.2,604.9 519.0,604.0 519.8,605.9 520.0,608.0 520.6,608.6 520.8,608.5 521.2,609.9 522.0,610.0 522.2,610.6 522.9,610.4 523.2,610.5 523.8,610.0 524.5,609.8 524.8,610.7 525.3,610.2 526.2,610.1 526.3,610.1 527.0,610.5 527.4,610.5 528.1,610.8 528.8,610.4 529.1,611.6 529.3,610.8 530.0,611.5 530.5,610.7 531.0,611.1 531.2,610.0 532.0,609.8 532.3,609.8 533.0,609.5 533.2,609.2 533.9,610.0 534.8,610.3 535.0,610.5 535.2,609.4 536.2,609.1 536.8,608.8 537.0,607.5 537.8,606.9 538.3,607.3 538.3,606.7 539.3,606.6 539.2,606.6 540.3,606.7 540.7,606.1 541.0,606.5 541.5,606.2 541.8,606.6 542.4,605.8 543.4,606.2 543.2,605.5 544.1,606.1 544.1,606.0 545.0,606.0 545.7,605.9 545.8,605.7 546.6,605.8 546.7,605.9 547.9,605.7 548.3,605.1 548.8,604.7 549.0,605.0 549.3,604.9 550.3,603.9 550.3,603.6 551.0,603.5 551.2,604.1 552.0,603.5 552.5,604.3 552.9,604.1 553.0,604.6 553.7,604.2 554.4,605.0 554.8,605.2 555.3,604.7 555.9,604.4 556.6,604.5 557.3,604.9 557.2,605.7 557.8,605.0 558.5,605.2 558.9,604.8 559.2,603.7 559.9,603.6 560.7,602.5 560.8,602.6 561.5,602.3 562.2,602.5 562.3,601.8 562.8,602.7 563.3,601.4 564.1,602.0 564.9,601.1 564.8,601.2 565.6,601.5 566.0,601.5 566.4,602.1 567.1,602.2 567.8,601.4 568.3,601.7 568.0,602.6 568.5,601.4 569.2,601.8 570.3,602.8 570.3,602.4 571.1,602.9 571.3,602.5 571.9,602.8 571.9,602.6 572.9,603.4 573.5,604.1 574.1,603.3 573.8,604.5 574.7,603.7 575.3,604.1 575.6,604.7 575.8,604.4 576.6,604.9 576.7,604.9 577.6,604.4 578.2,604.9 578.1,604.3 579.1,604.6 579.6,603.8 580.3,604.6 580.2,604.1 580.9,604.1 581.8,603.6 581.8,604.6 582.7,603.4 583.1,603.5 583.5,604.0 583.5,603.1 584.1,603.1 584.4,602.8 585.2,603.2 585.4,603.3 586.3,603.1 587.2,603.0 587.2,603.0 587.8,602.0 588.4,601.6 589.1,601.6 589.3,602.6 590.2,602.2 590.5,601.5 591.1,601.9 591.7,602.5 591.7,602.3 592.3,601.7 593.3,602.4 593.8,603.0 594.0,602.1 594.0,602.7 595.1,602.5 595.0,602.2 595.9,603.1 596.1,603.0 596.5,601.9 597.2,602.3 598.4,600.9 598.1,601.9 599.0,600.9 599.9,599.9 599.8,600.1 600.3,599.5 600.9,598.9 601.0,598.2 601.5,597.8 602.5,598.3 602.6,598.1 603.3,597.2 604.0,596.9 604.3,596.6 605.2,597.2 604.8,596.5 605.9,596.8 606.5,596.5 607.0,597.4 606.8,597.0 607.4,597.1 608.5,597.2 608.7,596.7 608.9,596.1 609.8,596.9 609.8,596.3 610.7,596.2 611.2,596.5 611.4,596.8 612.1,597.4 612.1,597.4 612.8,596.8 613.7,597.5 614.0,597.2 614.7,598.3 614.8,597.7 615.8,598.1 615.8,598.4 616.7,599.3 617.5,598.9 618.0,598.1 618.6,596.1 618.6,595.8 619.3,594.5 619.3,594.5 619.9,593.5 620.8,593.5 621.7,594.5 621.7,593.3 621.9,593.6 622.8,593.3 623.4,593.4 624.0,592.5 623.8,592.9 624.7,592.9 625.2,592.5 625.9,592.4 626.0,592.9 626.9,593.4 627.0,592.8 628.1,593.6 628.3,592.2 628.6,593.1 628.9,592.1 630.1,593.6 629.7,592.8 630.7,592.6 631.1,592.9 631.1,593.4 632.3,593.0 632.1,593.0 632.6,594.1 633.0,593.0 634.3,592.9 634.1,592.9 634.6,593.8 635.8,593.2 635.6,594.4 636.4,594.0 636.8,594.0 637.1,594.1 638.5,594.2 638.5,595.1 638.8,594.7 640.0,594.2 640.1,593.5 640.7,591.5 641.1,591.5 641.7,590.3 642.4,589.9 642.3,591.7 642.7,591.7 643.4,591.0 643.8,591.7 645.1,591.4 645.4,592.0 645.2,593.0 646.0,592.9 646.3,592.1 646.9,593.0 647.8,592.3 647.4,592.4 648.5,592.4 649.4,591.2 649.7,591.8 649.6,590.8 650.3,590.8 650.7,590.3 651.2,589.6 651.6,590.8 652.3,590.0 653.3,590.0 653.2,590.0 654.3,589.9 654.5,588.7 655.3,588.5 655.9,587.0 656.3,586.6 657.0,585.5 657.2,585.5 657.8,585.8 658.6,586.5 659.2,588.1 659.8,587.4 659.9,588.7 660.9,589.0 661.1,588.7 661.0,589.0 662.1,588.1 662.3,588.5 663.4,588.6 663.3,587.4 664.1,587.6 664.3,586.4 664.9,585.8 665.9,585.7 665.5,584.9 666.8,584.6 666.9,584.5 667.8,585.1 667.7,584.0 668.4,583.3 669.4,584.0 669.9,585.2 670.0,585.5 670.3,586.5 671.1,585.3 671.6,586.9 672.0,586.5 672.4,587.5 673.2,586.5 673.5,587.3 673.8,587.0 675.0,587.7 674.5,588.1 674.9,587.5 675.8,587.7 676.3,586.5 676.9,587.9 677.7,587.0 677.8,587.3 678.0,587.7 679.1,586.5 679.7,587.9 679.6,586.6 680.4,587.6 680.3,586.2 680.9,587.0 681.3,586.5 682.1,586.3 682.6,587.2 682.7,588.3 684.3,588.0 684.6,587.8 685.2,589.1 685.3,589.5 686.1,590.0 686.1,589.9 686.4,588.0 687.2,589.5 688.2,589.4 688.2,589.2 688.7,587.4 689.3,588.5 689.5,587.9 689.8,587.1 690.6,587.3 691.0,587.2 691.5,586.3 691.5,586.8 692.8,587.5 692.7,586.4 693.6,586.2 694.2,587.6 694.2,586.9 695.3,587.1 695.8,587.0 695.7,587.1 697.0,585.5 697.0,586.3 698.0,585.9 697.5,584.9 698.8,585.9 698.5,585.2 699.6,586.1 699.8,585.4 700.1,584.0 700.5,584.1 701.6,583.7 701.5,583.3 701.9,583.0 702.7,583.4 703.4,583.1 703.5,583.0 704.3,583.9 704.9,583.8 705.3,582.1 706.0,581.9 705.9,581.7 707.1,583.5 707.2,582.1 707.7,582.0 708.6,582.0 708.4,582.9 709.4,581.1 709.8,582.0 710.7,582.4 710.6,582.1 711.8,581.5 711.7,581.2 712.3,581.9 713.0,582.4 712.8,581.1 714.2,581.9 714.3,581.6 714.5,582.1 715.3,580.9 715.3,580.2 716.2,580.9 717.2,581.7 716.6,580.8 717.6,581.3 717.9,582.2 718.4,581.6 719.6,581.9 719.5,581.4 719.9,582.1 720.5,582.0 721.4,581.2 721.3,581.1 721.8,581.9 722.5,580.2 722.7,581.0 723.0,580.4 723.3,579.0 723.9,580.0 724.5,578.4 724.9,578.2 726.2,578.8 726.9,579.0 726.9,577.7 727.5,578.2 727.4,577.8 728.3,575.8 729.2,576.8 729.2,574.8 730.3,575.8 730.5,575.9 730.2,573.5 730.8,573.0 732.1,573.9 731.8,572.5 732.4,573.0 733.3,572.4 734.0,572.9 734.1,572.5 734.6,570.7 734.9,569.9 736.3,571.1 736.4,568.8 736.2,568.3 736.9,569.1 737.6,568.1 737.5,567.7 738.8,566.1 739.0,567.3 739.6,566.1 740.5,565.9 740.3,565.0 741.5,565.6 742.0,564.4 741.9,563.8 741.9,563.3 742.8,564.8 742.8,565.3 744.4,564.9 743.8,565.9 744.9,565.8 745.7,566.3 746.1,566.0 746.4,567.1 747.7,567.0 747.7,565.6 747.8,565.4 749.1,566.7 749.4,566.8 750.2,566.5 749.7,566.6 750.4,566.0 750.5,565.6 750.8,565.5 751.8,563.3 753.0,562.1 753.4,563.1 752.7,562.4 753.9,562.1 754.4,560.1 754.7,559.6 755.9,558.0 756.2,557.5 755.9,557.0 757.4,557.3 757.7,556.3 757.9,556.4 758.8,555.6 758.3,553.9 759.9,551.9 760.3,550.8 760.4,551.3 761.1,548.9 762.4,554.0 762.0,556.6 763.2,560.8 763.2,563.8 763.7,563.6 764.1,562.6 764.8,559.0 765.8,557.8 766.2,556.3 766.4,556.4 767.7,556.0 767.8,554.4 768.1,554.6 767.9,555.4 767.9,553.9 768.5,554.6 770.5,551.6 770.2,552.5 770.7,552.1 771.6,553.5 771.5,554.9 771.7,553.1 773.4,553.8 772.8,555.7 773.9,556.4 774.1,554.4 775.8,554.5 776.0,552.9 776.8,551.9 777.4,552.3 777.1,551.0 778.5,552.7 778.3,552.8 779.2,553.4 778.2,555.8 780.1,555.9 780.0,556.1 781.0,556.4 781.0,559.6 782.5,561.1 782.1,560.9 782.0,560.6 783.3,558.7 783.1,556.9 784.3,557.2 784.8,556.3 784.9,555.0 786.0,555.5 786.6,552.6 786.9,552.9 788.3,553.4 789.0,556.5 787.8,556.0 789.1,556.6 790.6,555.7 790.3,554.9 789.7,553.9 790.4,553.7 792.0,554.2 793.3,554.1 792.8,552.9 793.0,555.2 794.1,554.4 795.0,555.5 794.4,555.9 794.7,557.9 795.1,558.6 795.2,555.7 796.7,557.0 797.1,558.8 797.6,556.7 798.9,558.1 799.1,558.4 799.2,556.1 800.9,554.1 800.8,548.9 800.8,548.1 800.3,549.5 802.9,550.8 802.5,551.4 802.9,555.0 803.2,555.8 804.2,554.8 803.4,551.6 804.3,553.4 805.6,551.3 805.2,552.1 806.1,551.1 807.2,547.9 808.9,547.4 808.7,545.1 808.8,546.0 810.1,547.4 808.9,545.9 809.8,543.0 810.6,544.5 812.6,545.4 812.0,542.8 813.8,543.4 813.4,541.6 814.2,543.3 813.8,544.8 814.1,541.7 815.2,543.3 814.9,540.9 816.5,542.7 815.9,540.5 817.3,539.6 818.0,540.9 818.2,541.9 817.7,540.9 819.3,542.7 820.0,544.9 821.2,543.2 821.9,542.7 820.5,543.2 821.8,542.0 822.6,542.2 823.8,540.3 824.0,542.2 823.9,540.1 825.6,539.8 824.1,536.7 824.4,537.2 824.8,537.9 826.2,535.7 826.9,535.8 827.5,539.1 827.3,537.0 827.9,539.1 829.0,541.2 830.6,539.5 829.9,534.5 829.4,531.7 832.1,531.5 830.7,528.9 832.2,525.7 832.4,530.0 833.1,533.7 833.8,538.5 835.0,535.6 834.9,529.2 835.4,526.8 836.4,527.4 836.9,526.8 838.2,527.3 836.8,530.2 838.1,531.6 837.8,528.7 839.7,532.0 839.2,527.6 840.7,526.4 840.8,526.8 841.0,527.3 841.7,524.4 841.2,525.9 844.4,527.4 842.3,525.0 844.0,524.6 844.5,524.0 845.6,526.4 846.5,526.3 847.4,529.7 846.6,527.3 847.2,530.0 847.7,527.5 848.8,529.6 849.0,530.3 849.3,527.3 848.5,527.0 851.3,522.6 850.4,520.9 851.7,522.9 852.0,520.4 852.1,523.1 852.7,525.0 853.6,525.7 853.5,527.2 854.5,521.4 853.9,524.1 855.7,522.0 857.3,520.4 855.7,519.3 857.3,515.1 858.5,515.8 858.0,521.2 858.9,523.0 857.9,521.3 859.5,526.0 862.0,523.7 861.0,525.2 862.8,528.9 863.2,530.2 862.6,532.1 864.6,532.4 865.0,531.6 863.3,531.0 864.8,530.5 865.3,525.0 865.8,519.9 866.1,513.5 866.6,507.1 867.1,513.2 867.3,520.2 868.0,526.8 868.5,524.3 869.5,521.0 869.7,519.3 870.1,518.3 871.5,520.9 872.0,521.5 871.0,525.2 872.3,524.0 872.8,526.2 872.7,525.2 874.5,526.8 874.3,525.8 874.9,524.1 874.6,522.5 875.5,520.4 876.1,521.3 877.0,518.7 878.2,517.6 877.2,520.8 879.0,520.6 879.0,520.0 879.9,522.3 879.4,520.5 880.2,521.7 882.6,525.5 881.7,526.7 882.7,528.5 883.6,524.2 882.6,523.0 884.5,525.6 884.0,523.2 883.8,523.2 885.0,522.7 886.1,524.0 887.0,523.2 886.2,520.3 886.3,522.4 886.4,517.6 887.2,520.8 888.3,518.0 889.8,518.7 890.3,523.1 889.7,522.7 890.0,522.2 891.6,524.2 890.1,527.9 891.6,526.4 892.3,528.0 893.1,528.6 891.8,531.1 893.4,531.0 894.3,535.3 894.6,530.6 895.1,525.4 895.7,520.0 896.6,519.7 895.2,523.5 897.5,522.9 897.7,525.3 897.9,521.7 899.1,516.6 899.3,513.0 899.7,508.7 900.0,518.0 900.6,528.7 900.6,531.2 902.0,532.3 902.3,534.0 901.6,530.1 902.7,528.7 903.7,526.7 903.8,530.9 903.5,533.5 904.4,535.0 905.7,535.3 905.4,533.7 906.3,529.0 908.1,530.9 907.7,527.3 907.4,526.5 908.5,525.4 909.0,520.7 908.1,522.1 909.2,525.3 911.3,528.4 911.0,528.7 911.6,525.7 912.8,521.8 912.3,521.3 912.1,524.8 913.1,528.2 912.6,527.6 914.3,530.0 913.9,525.5 914.1,523.9 915.4,523.7 916.3,522.0 916.9,524.9 917.4,530.0" fill="none" stroke="#C77CFF" stroke-width="2.2" stroke-linejoin="round" stroke-linecap="butt"/>
<polyline points="921.0,526.0 922.1,528.3 923.3,528.8 922.3,532.7 922.8,531.7 922.9,532.5 922.9,531.6 924.3,528.7 924.4,525.3 925.7,523.9 925.3,519.0 927.9,517.9 927.0,516.0 926.3,520.1 928.0,521.8 928.3,526.0 928.3,526.7 928.9,523.5 931.3,522.1 930.2,520.0 931.0,520.7 931.6,516.0 932.0,510.6 932.3,506.1 933.0,500.7 933.4,501.7 933.6,500.5 933.1,497.2 935.0,498.0 935.9,489.5 936.2,480.3 936.5,471.1 937.0,462.7 937.7,516.7 937.2,516.9 939.3,514.5 939.6,513.3 939.7,514.7 940.5,514.2 940.7,516.0 941.4,516.3 941.7,519.3 942.1,520.7 941.6,520.0 943.7,522.1 943.7,522.7 944.5,521.2 944.8,515.5 945.0,514.0 945.3,515.4 946.2,514.6 946.1,512.8 947.0,512.7 947.9,519.2 948.0,524.7" fill="none" stroke="#C77CFF" stroke-width="2.2" stroke-linejoin="round" stroke-linecap="butt"/>
<polyline points="952.0,523.3 953.0,522.5 953.3,523.4 954.8,529.4 954.7,527.0 955.6,527.8 955.0,530.7 956.4,530.1 954.4,531.4 956.3,528.7" fill="none" stroke="#C77CFF" stroke-width="2.2" stroke-linejoin="round" stroke-linecap="butt"/>
<polyline points="957.7,534.0 958.0,537.6 959.3,537.9 960.4,538.1 961.0,540.6 960.3,543.3 959.4,541.0 960.1,538.2 962.0,539.0 962.6,530.4 963.0,523.0 962.4,523.7 963.3,528.7 965.8,530.2 965.0,530.0 967.0,527.7 966.9,524.9 967.8,525.6 967.0,522.0 968.2,519.4 966.7,521.8 968.7,519.0 970.1,515.4 969.5,516.0 970.6,516.4 971.4,516.9 970.1,520.1 970.8,519.6 973.0,517.6 973.1,518.9 973.0,520.0 972.6,517.6 975.4,517.5 974.5,517.3 973.5,517.7 975.5,515.5 976.8,520.9 976.1,521.0 977.0,526.0 977.5,514.1 978.2,501.5 978.8,508.2 979.1,514.6 979.5,522.0 981.3,524.2 980.5,528.2 981.0,529.0 980.6,526.7 981.5,523.6 982.5,518.5 981.7,518.2 983.9,520.2 983.6,521.5 984.5,522.0 984.1,519.5 983.9,519.1 985.2,517.1 986.7,513.7 987.0,511.0 987.6,504.4 988.3,498.7 988.8,493.4 989.0,487.0 989.7,503.0 990.0,518.0 990.3,521.2 992.4,520.9 990.3,524.3 992.0,527.0 992.5,521.5 992.1,521.5 993.2,514.1 993.0,512.6 994.5,508.5 994.7,517.2 995.5,526.0 996.1,522.5 996.5,521.4 995.5,518.6 996.6,510.8 998.0,510.0 999.3,514.4 999.1,516.5 999.5,522.0 1000.3,504.9 1000.5,488.5 1001.2,499.8 1001.5,512.0 1002.2,515.2 1002.1,516.7 1001.6,519.9 1004.1,519.8 1004.0,524.0 1004.7,522.0 1003.8,519.3 1006.7,511.9 1005.2,508.8 1005.7,505.6 1007.0,504.5 1007.5,514.9 1008.0,526.0 1007.9,526.5 1008.6,529.0 1010.2,526.2 1010.0,529.0 1010.2,520.2 1010.8,512.4 1011.7,505.4 1012.0,497.0 1014.1,492.3 1011.5,492.0 1013.5,487.5 1013.8,489.4 1014.3,485.9 1015.2,486.5 1015.2,492.6 1016.1,497.2 1016.5,503.0 1017.0,508.0 1018.5,511.4 1017.0,514.5 1019.7,518.0 1019.0,522.0 1020.0,521.5 1019.9,520.8 1019.7,519.9 1022.1,516.6 1021.5,518.0 1021.6,518.7 1024.0,512.9 1023.4,514.8 1024.6,512.6 1024.0,511.5 1023.3,511.3 1025.7,514.4 1024.6,514.9 1026.0,515.0 1027.0,518.2 1025.5,519.4 1026.9,522.6 1028.0,524.5 1028.0,519.7 1029.5,517.6 1030.4,514.9 1030.0,513.0 1030.6,507.7 1031.2,501.5 1030.4,505.8 1030.7,510.0 1031.1,512.1 1033.0,514.0 1033.1,511.6 1033.7,512.5 1034.2,509.8 1035.1,509.9 1037.0,509.6 1036.0,509.5 1036.3,507.8 1038.5,508.1 1038.0,510.5 1037.7,509.8 1037.8,506.2 1039.0,508.0 1038.1,506.7 1041.2,504.4 1040.3,506.4 1040.3,502.2 1041.6,502.6 1042.0,502.0 1043.9,505.5 1042.2,505.1 1043.2,503.7 1043.8,509.8 1044.5,509.0 1044.8,500.1 1045.5,491.0 1046.6,485.9 1047.7,483.3 1046.8,482.5 1047.2,490.7 1047.5,498.0 1048.5,506.0 1048.6,498.1 1049.0,489.8 1050.0,482.5 1050.2,490.0 1050.6,498.3 1051.5,507.0 1052.0,500.2 1052.5,494.5 1054.0,496.9 1052.7,498.9 1055.1,500.7 1054.5,506.0 1055.8,504.8 1057.0,507.3 1056.4,510.6 1055.4,507.2 1057.2,510.4 1058.4,510.0 1059.0,507.4 1058.8,506.0 1059.4,506.8 1059.7,503.7 1060.6,501.8 1060.1,501.7 1060.0,500.5 1061.8,495.5 1062.3,495.0 1061.6,495.8 1063.4,497.7 1063.5,496.8 1064.5,498.0 1066.2,499.5 1067.0,505.4 1066.0,506.0 1068.0,509.0 1066.2,508.9 1067.8,506.3 1069.5,509.2 1069.4,509.4 1068.9,509.7 1068.1,509.7 1068.9,504.5 1070.8,502.2 1070.8,503.0 1070.1,500.8 1071.9,498.0 1071.2,497.0 1073.4,497.3 1072.0,493.8 1075.4,494.1 1074.2,493.1 1075.6,494.2 1075.5,492.1 1076.5,492.2 1076.7,493.4 1076.0,496.3 1079.0,496.0 1079.6,495.0 1078.5,495.8 1080.1,492.7 1080.4,493.5 1080.2,490.6 1082.2,496.8 1081.4,499.4 1083.1,500.1 1083.3,503.2 1082.9,505.3 1083.2,501.2 1084.1,498.0 1084.3,493.6 1085.9,494.7 1084.2,492.2 1086.0,492.8 1085.8,492.4 1085.7,495.9 1087.3,495.0 1086.9,496.3 1087.7,495.7 1088.1,492.0 1088.9,490.0 1089.5,491.4 1090.2,491.4 1089.2,492.8 1090.9,487.7 1093.3,488.4 1091.5,486.7 1091.6,489.9 1093.6,488.3 1093.9,487.7 1093.6,485.5 1096.4,484.9 1097.0,486.6 1094.8,485.4 1094.9,483.6 1098.0,482.5 1097.5,480.4 1098.2,484.1 1097.5,484.6 1098.4,485.9 1099.7,488.4 1099.3,486.2 1101.0,483.3 1101.8,479.1 1101.9,475.3 1102.9,469.9 1103.1,463.3 1104.0,457.5 1104.1,451.8 1104.2,456.2 1105.3,461.8 1105.6,465.7 1106.3,459.9 1107.1,454.0 1107.2,447.5 1107.8,441.5 1108.6,452.2 1108.4,463.7 1109.3,474.5 1110.8,474.6 1110.9,479.5 1109.6,476.9 1111.2,479.5 1113.2,484.5 1112.2,483.3 1112.5,481.2 1113.6,474.2 1113.6,472.3 1115.6,472.6 1113.2,476.2 1113.4,478.4 1115.2,483.0 1115.9,482.6 1116.1,482.9 1117.8,479.9 1116.5,476.8 1117.8,475.6 1118.8,474.6 1118.8,473.0 1118.7,473.8 1121.4,471.9 1119.7,471.1 1119.4,471.6 1121.0,476.1 1121.7,474.5 1122.8,478.5 1123.8,477.9 1123.2,478.9 1124.0,475.6 1123.9,476.2 1125.2,474.4 1125.4,476.0 1126.1,471.9 1126.5,468.6 1127.1,465.7 1126.4,471.3 1128.3,474.5 1129.8,472.6 1128.1,470.2 1129.8,467.2 1130.5,422.5 1131.0,467.2" fill="none" stroke="#C77CFF" stroke-width="2.2" stroke-linejoin="round" stroke-linecap="butt"/>
<line x1="157.57" x2="163.3" y1="632.00" y2="632.00" stroke="#333333" stroke-width="2.22"/>
<line x1="157.57" x2="163.3" y1="513.50" y2="513.50" stroke="#333333" stroke-width="2.22"/>
<line x1="157.57" x2="163.3" y1="395.00" y2="395.00" stroke="#333333" stroke-width="2.22"/>
<line x1="157.57" x2="163.3" y1="276.50" y2="276.50" stroke="#333333" stroke-width="2.22"/>
<line x1="157.57" x2="163.3" y1="158.00" y2="158.00" stroke="#333333" stroke-width="2.22"/>
<line x1="267.90" x2="267.90" y1="655.0" y2="660.73" stroke="#333333" stroke-width="2.22"/>
<line x1="384.49" x2="384.49" y1="655.0" y2="660.73" stroke="#333333" stroke-width="2.22"/>
<line x1="501.07" x2="501.07" y1="655.0" y2="660.73" stroke="#333333" stroke-width="2.22"/>
<line x1="617.66" x2="617.66" y1="655.0" y2="660.73" stroke="#333333" stroke-width="2.22"/>
<line x1="734.24" x2="734.24" y1="655.0" y2="660.73" stroke="#333333" stroke-width="2.22"/>
<line x1="850.83" x2="850.83" y1="655.0" y2="660.73" stroke="#333333" stroke-width="2.22"/>
<line x1="967.41" x2="967.41" y1="655.0" y2="660.73" stroke="#333333" stroke-width="2.22"/>
<line x1="1084.00" x2="1084.00" y1="655.0" y2="660.73" stroke="#333333" stroke-width="2.22"/>
<rect x="437.1" y="73.1" width="35.8" height="35.8" fill="#EBEBEB"/>
<line x1="440.00" x2="469.20" y1="90.65" y2="90.65" stroke="#7CAE00" stroke-width="2.4"/>
<rect x="699.0" y="73.1" width="35.8" height="35.8" fill="#EBEBEB"/>
<line x1="701.90" x2="731.10" y1="90.65" y2="90.65" stroke="#C77CFF" stroke-width="2.4"/>
<g>
<text x="80.70" y="638.60" textLength="72" lengthAdjust="spacing" fill="#4D4D4D" font-size="18.33">0 Gbit/s</text>
<text x="56.70" y="520.10" textLength="96" lengthAdjust="spacing" fill="#4D4D4D" font-size="18.33">300 Gbit/s</text>
<text x="56.70" y="401.60" textLength="96" lengthAdjust="spacing" fill="#4D4D4D" font-size="18.33">600 Gbit/s</text>
<text x="56.70" y="283.10" textLength="96" lengthAdjust="spacing" fill="#4D4D4D" font-size="18.33">900 Gbit/s</text>
<text x="38.70" y="164.60" textLength="114" lengthAdjust="spacing" fill="#4D4D4D" font-size="18.33">1 200 Gbit/s</text>
<text x="243.90" y="678.1" textLength="48" lengthAdjust="spacing" fill="#4D4D4D" font-size="18.33">2011</text>
<text x="360.49" y="678.1" textLength="48" lengthAdjust="spacing" fill="#4D4D4D" font-size="18.33">2013</text>
<text x="477.07" y="678.1" textLength="48" lengthAdjust="spacing" fill="#4D4D4D" font-size="18.33">2015</text>
<text x="593.66" y="678.1" textLength="48" lengthAdjust="spacing" fill="#4D4D4D" font-size="18.33">2017</text>
<text x="710.24" y="678.1" textLength="48" lengthAdjust="spacing" fill="#4D4D4D" font-size="18.33">2019</text>
<text x="826.83" y="678.1" textLength="48" lengthAdjust="spacing" fill="#4D4D4D" font-size="18.33">2021</text>
<text x="943.41" y="678.1" textLength="48" lengthAdjust="spacing" fill="#4D4D4D" font-size="18.33">2023</text>
<text x="1060.00" y="678.1" textLength="48" lengthAdjust="spacing" fill="#4D4D4D" font-size="18.33">2025</text>
<text x="670.15" y="32.8" text-anchor="middle" fill="#000" font-size="27.5">Total relay bandwidth</text>
<text x="484.7" y="97.3" textLength="202.2" lengthAdjust="spacing" fill="#000" font-size="18.33">Advertised bandwidth</text>
<text x="746.7" y="97.3" textLength="168.2" lengthAdjust="spacing" fill="#000" font-size="18.33">Bandwidth history</text>
<text x="751.0" y="734.6" textLength="426.4" lengthAdjust="spacing" fill="#000" font-size="18.33">The Tor Project - https://metrics.torproject.org/</text>
</g>
</svg></body></html>
